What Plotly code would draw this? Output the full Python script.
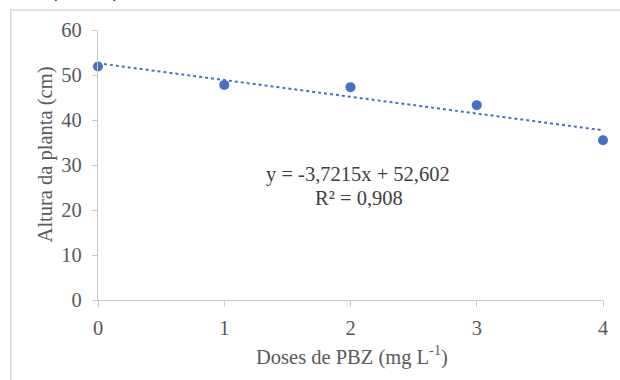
import plotly.graph_objects as go

# Plant height as a function of PBZ dose
doses = [0, 1, 2, 3, 4]
altura = [51.9, 47.8, 47.3, 43.3, 35.5]

# Linear fit coefficients shown on the chart
slope = -3.7215
intercept = 52.602
r2 = 0.908

x_ticks = [0, 1, 2, 3, 4]
y_ticks = [0, 10, 20, 30, 40, 50, 60]

W, H = 620, 380
ML, MR, MT, MB = 98, 13, 30, 80
PW, PH = W - ML - MR, H - MT - MB


def px(x):
    return (x - ML) / PW


def py(y):
    return (H - MB - y) / PH


blue = "#4472C4"
grid_col = "#C8C8C8"
txt = "#595959"
serif = "Liberation Serif, Times New Roman, serif"
fs = 20.5

trend_x = [doses[0], doses[-1]]
trend_y = [intercept + slope * v for v in trend_x]

fig = go.Figure()
fig.add_trace(go.Scatter(
    x=trend_x, y=trend_y, mode="lines",
    line=dict(color=blue, width=2, dash="dot"),
    hoverinfo="skip", showlegend=False, cliponaxis=False,
))
fig.add_trace(go.Scatter(
    x=doses, y=altura, mode="markers",
    marker=dict(color=blue, size=10),
    showlegend=False, cliponaxis=False,
))

fig.update_layout(
    width=W, height=H,
    margin=dict(l=ML, r=MR, t=MT, b=MB),
    paper_bgcolor="white", plot_bgcolor="white",
    font=dict(family=serif, size=fs, color=txt),
    xaxis=dict(
        range=[0, 4], tickvals=x_ticks, showgrid=False, zeroline=False,
        showline=True, linecolor=grid_col, linewidth=1.2,
        ticks="outside", ticklen=6, tickcolor=grid_col,
        tickfont=dict(size=fs, color=txt), ticklabelstandoff=3,
    ),
    yaxis=dict(
        range=[0, 60], tickvals=y_ticks, showgrid=False, zeroline=False,
        showline=True, linecolor=grid_col, linewidth=1.2,
        ticks="outside", ticklen=5, tickcolor=grid_col,
        tickfont=dict(size=fs, color=txt), ticklabelstandoff=6,
    ),
    shapes=[
        dict(type="rect", xref="paper", yref="paper",
             x0=px(10), x1=px(640), y0=py(400), y1=py(10),
             line=dict(color="#D9D9D9", width=1.5), layer="below"),
    ],
    annotations=[
        dict(text="regulador (PBZ).", xref="paper", yref="paper",
             x=px(132), y=py(4), xanchor="right", yanchor="bottom",
             showarrow=False, font=dict(family=serif, size=30, color="black")),
        dict(text="Altura da planta (cm)", xref="paper", yref="paper",
             x=px(45), y=py(154), xanchor="center", yanchor="middle",
             textangle=-90, showarrow=False,
             font=dict(family=serif, size=fs, color=txt)),
        dict(text="Doses de PBZ (mg L<sup>-1</sup>)", xref="paper", yref="paper",
             x=px(354), y=py(355), xanchor="center", yanchor="middle",
             showarrow=False, font=dict(family=serif, size=fs, color=txt)),
        dict(text=f"y = {slope:.4f}x + {intercept:.3f}".replace(".", ","),
             xref="paper", yref="paper", x=px(360), y=py(175),
             xanchor="center", yanchor="middle", showarrow=False,
             font=dict(family=serif, size=fs, color="#404040")),
        dict(text=f"R² = {r2:.3f}".replace(".", ","),
             xref="paper", yref="paper", x=px(361), y=py(198),
             xanchor="center", yanchor="middle", showarrow=False,
             font=dict(family=serif, size=fs, color="#404040")),
    ],
)

fig.write_html("out.html")
